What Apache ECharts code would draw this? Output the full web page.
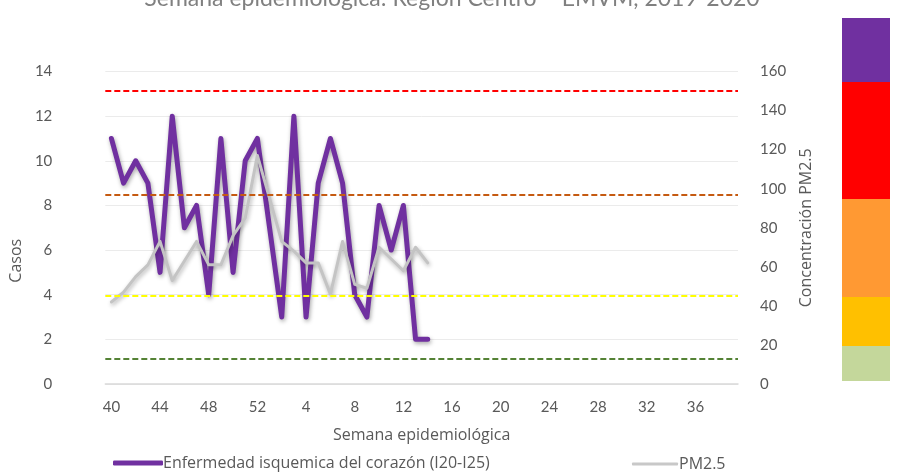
<!DOCTYPE html>
<html>
<head>
<meta charset="utf-8">
<script src="https://cdn.jsdelivr.net/npm/echarts@6/dist/echarts.min.js"></script>
<style>
  html, body { margin: 0; padding: 0; background: #fff; }
  #chart { width: 904px; height: 476px; }
</style>
</head>
<body>
<div id="chart"></div>
<script>
// semanas epidemiologicas 2019 (40-52) y 2020 (1-39)
const semanas = [40, 41, 42, 43, 44, 45, 46, 47, 48, 49, 50, 51, 52,
  1, 2, 3, 4, 5, 6, 7, 8, 9, 10, 11, 12, 13, 14, 15, 16, 17, 18, 19, 20,
  21, 22, 23, 24, 25, 26, 27, 28, 29, 30, 31, 32, 33, 34, 35, 36, 37, 38, 39]

// casos enfermedad isquemica (eje izquierdo)
const casos = [11, 9, 10, 9, 5, 12, 7, 8, 4, 11, 5, 10, 11,
  7, 3, 12, 3, 9, 11, 9, 4, 3, 8, 6, 8, 2, 2]

// concentracion PM2.5 (eje derecho)
const pm25 = [42, 47, 55, 61, 73, 53, 63, 73, 61, 61, 76, 85, 117,
  95, 73, 68, 62, 62, 46, 73, 51, 49, 70, 64, 58, 70, 62]

// umbrales PM2.5 (lineas punteadas)
const umbrales = [13, 45, 97, 150]
const coloresUmbral = ['#548235', '#FFFF00', '#C55A11', '#FF0000']

// barra de colores a la derecha (alto relativo de cada banda, de abajo hacia arriba)
const bandas = [35, 49, 98, 117, 64]
const coloresBanda = ['#C4D79B', '#FFC000', '#FF9933', '#FF0000', '#7030A0']

const font = 'Lato, "Open Sans", sans-serif'
const gris = '#595959'

const chart = echarts.init(document.getElementById('chart'))

const bandSeries = bandas.map((v, i) => ({
  type: 'bar',
  xAxisIndex: 1,
  yAxisIndex: 2,
  stack: 'banda',
  barWidth: '100%',
  silent: true,
  data: [v],
  itemStyle: { color: coloresBanda[i] }
}))

chart.setOption({
  animation: false,
  textStyle: { fontFamily: font },
  title: {
    text: 'Semana epidemiológica: Región Centro – EMVM, 2019-2020',
    left: 'center',
    top: -18,
    textStyle: { fontFamily: font, fontSize: 23, fontWeight: 'normal', color: '#808080' }
  },
  legend: [
    {
      data: ['Enfermedad isquemica del corazón (I20-I25)'],
      left: 108,
      top: 450,
      icon: 'roundRect',
      itemWidth: 50,
      itemHeight: 5,
      itemGap: 0,
      textStyle: { fontFamily: '"Open Sans", sans-serif', fontSize: 16, color: gris, padding: [0, 0, 0, -5] }
    },
    {
      data: ['PM2.5'],
      left: 627,
      top: 451,
      icon: 'roundRect',
      itemWidth: 46,
      itemHeight: 3,
      textStyle: { fontFamily: '"Open Sans", sans-serif', fontSize: 16, color: gris, padding: [0, 0, 0, -4] }
    }
  ],
  grid: [
    { left: 102, right: 166, top: 71.5, bottom: 92 },
    { left: 842, width: 48, top: 18, height: 363 }
  ],
  xAxis: [
    {
      type: 'category',
      data: semanas,
      gridIndex: 0,
      boundaryGap: true,
      axisTick: { show: false },
      axisLine: { lineStyle: { color: '#d9d9d9', width: 1.5 } },
      axisLabel: { interval: 3, color: gris, fontSize: 15, margin: 16 },
      name: 'Semana epidemiológica',
      nameLocation: 'middle',
      nameGap: 43,
      nameTextStyle: { fontFamily: '"Open Sans", sans-serif', color: gris, fontSize: 16 }
    },
    {
      type: 'category',
      data: [''],
      gridIndex: 1,
      show: false
    }
  ],
  yAxis: [
    {
      type: 'value',
      gridIndex: 0,
      min: 0,
      max: 14,
      interval: 2,
      axisLine: { show: false },
      axisTick: { show: false },
      axisLabel: { color: gris, fontSize: 15, margin: 53 },
      splitLine: { lineStyle: { color: '#ebebeb', width: 1 } },
      name: 'Casos',
      nameLocation: 'middle',
      nameGap: 64,
      nameRotate: 90,
      nameTextStyle: { fontFamily: '"Open Sans", sans-serif', color: gris, fontSize: 16, padding: [0, 0, 0, -66] }
    },
    {
      type: 'value',
      gridIndex: 0,
      position: 'right',
      min: 0,
      max: 160,
      interval: 20,
      axisLine: { show: false },
      axisTick: { show: false },
      axisLabel: { color: gris, fontSize: 15, margin: 22 },
      splitLine: { show: false },
      name: 'Concentración PM2.5',
      nameLocation: 'middle',
      nameGap: 60,
      nameRotate: 90,
      nameTextStyle: { fontFamily: '"Open Sans", sans-serif', color: gris, fontSize: 16 }
    },
    {
      type: 'value',
      gridIndex: 1,
      min: 0,
      max: bandas.reduce((a, b) => a + b, 0),
      show: false
    }
  ],
  series: [
    {
      name: 'Enfermedad isquemica del corazón (I20-I25)',
      type: 'line',
      yAxisIndex: 0,
      data: casos,
      symbol: 'none',
      z: 3,
      color: '#7030A0',
      lineStyle: {
        color: '#7030A0',
        width: 5,
        cap: 'round',
        join: 'round',
        shadowColor: 'rgba(0,0,0,0.35)',
        shadowBlur: 4,
        shadowOffsetX: 1,
        shadowOffsetY: 2
      }
    },
    {
      name: 'PM2.5',
      type: 'line',
      yAxisIndex: 1,
      data: pm25,
      symbol: 'none',
      z: 4,
      color: '#C8C8C8',
      lineStyle: {
        color: '#C4C4C4',
        width: 3,
        cap: 'round',
        join: 'round',
        shadowColor: 'rgba(0,0,0,0.3)',
        shadowBlur: 4,
        shadowOffsetX: 1,
        shadowOffsetY: 2
      }
    },
    {
      name: 'umbrales',
      type: 'line',
      yAxisIndex: 1,
      data: [],
      z: 5,
      markLine: {
        silent: true,
        symbol: 'none',
        label: { show: false },
        data: umbrales.map((u, i) => ({
          yAxis: u,
          lineStyle: { color: coloresUmbral[i], type: [6, 3], width: 2 }
        }))
      }
    },
    ...bandSeries
  ]
})
</script>
</body>
</html>
